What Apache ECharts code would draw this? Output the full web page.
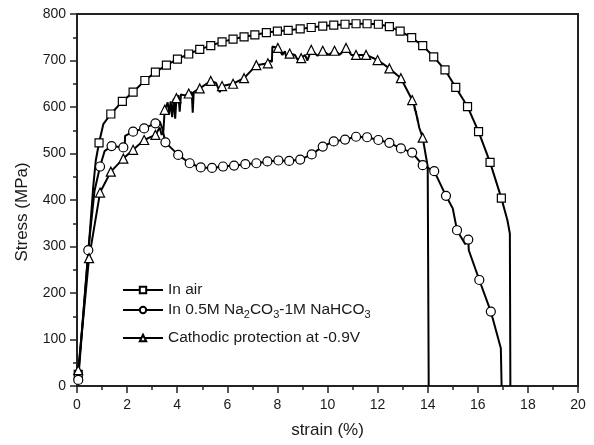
<!DOCTYPE html>
<html>
<head>
<meta charset="utf-8">
<script src="https://cdn.jsdelivr.net/npm/echarts@6/dist/echarts.min.js"></script>
<style>
    html, body { margin: 0; padding: 0; background: #fff; }
    #chart { width: 594px; height: 445px; }
</style>
</head>
<body>
<div id="chart"></div>
<script>
    // strain (%) / stress (MPa)
    // points with a symbol
    var airMarks = [[0.05, 25], [0.88, 523], [1.35, 585], [1.81, 612], [2.24, 632], [2.71, 657], [3.13, 675], [3.57, 690],
        [4.01, 703], [4.46, 714], [4.90, 724], [5.34, 732], [5.79, 740], [6.23, 746], [6.67, 751], [7.10, 755],
        [7.56, 760], [8.00, 763], [8.43, 765], [8.91, 768], [9.35, 771], [9.81, 774], [10.25, 776], [10.70, 778],
        [11.14, 779], [11.58, 779], [12.03, 778], [12.47, 773], [12.90, 763], [13.36, 749], [13.80, 732],
        [14.24, 708], [14.69, 680], [15.12, 642], [15.59, 601], [16.03, 547], [16.49, 481], [16.94, 404]];
    var solMarks = [[0.05, 13], [0.45, 292], [0.92, 472], [1.38, 516], [1.85, 513], [2.24, 547], [2.68, 554], [3.13, 565],
        [3.53, 524], [4.04, 497], [4.50, 479], [4.94, 470], [5.39, 469], [5.83, 472], [6.27, 474], [6.72, 477],
        [7.16, 479], [7.60, 483], [8.04, 485], [8.47, 484], [8.91, 487], [9.37, 498], [9.81, 515], [10.25, 526],
        [10.70, 530], [11.14, 536], [11.58, 535], [12.03, 529], [12.47, 523], [12.93, 511], [13.38, 502],
        [13.80, 475], [14.26, 462], [14.73, 409], [15.17, 335], [15.62, 315], [16.06, 228], [16.52, 160]];
    var cpMarks = [[0.05, 34], [0.48, 275], [0.92, 416], [1.35, 461], [1.85, 489], [2.24, 508], [2.68, 529], [3.13, 540],
        [3.50, 594], [3.97, 619], [4.46, 629], [4.90, 640], [5.34, 656], [5.79, 645], [6.23, 650], [6.67, 662],
        [7.16, 690], [7.62, 694], [8.02, 727], [8.49, 715], [8.95, 705], [9.35, 723], [9.81, 721], [10.28, 721],
        [10.74, 727], [11.14, 712], [11.54, 712], [12.00, 701], [12.47, 683], [12.93, 662], [13.38, 615], [13.80, 534]];

    // full recorded curves (symbols + points in between)
    var airCurve = [[0.05, 25], [0.45, 285], [0.65, 430], [0.75, 485], [0.88, 523], [1.05, 563], [1.35, 585], [1.81, 612],
        [2.24, 632], [2.71, 657], [3.13, 675], [3.57, 690], [4.01, 703], [4.46, 714], [4.90, 724], [5.34, 732],
        [5.79, 740], [6.23, 746], [6.67, 751], [7.10, 755], [7.56, 760], [8.00, 763], [8.43, 765], [8.91, 768],
        [9.35, 771], [9.81, 774], [10.25, 776], [10.70, 778], [11.14, 779], [11.58, 779], [12.03, 778], [12.47, 773],
        [12.90, 763], [13.36, 749], [13.80, 732], [14.24, 708], [14.69, 680], [15.12, 642], [15.59, 601],
        [16.03, 547], [16.49, 481], [16.94, 404], [17.18, 357], [17.28, 328], [17.30, 0]];
    var solCurve = [[0.05, 13], [0.45, 292], [0.70, 420], [0.92, 472], [1.10, 505], [1.38, 516], [1.85, 513], [1.90, 508],
        [1.92, 538], [2.24, 547], [2.68, 554], [3.13, 565], [3.30, 569], [3.40, 555], [3.53, 524], [4.04, 497],
        [4.50, 479], [4.94, 470], [5.39, 469], [5.83, 472], [6.27, 474], [6.72, 477], [7.16, 479], [7.60, 483],
        [8.04, 485], [8.47, 484], [8.91, 487], [9.37, 498], [9.81, 515], [10.25, 526], [10.70, 530], [11.14, 536],
        [11.58, 535], [12.03, 529], [12.47, 523], [12.93, 511], [13.38, 502], [13.80, 475], [14.26, 462],
        [14.73, 409], [15.00, 382], [15.17, 335], [15.50, 305], [15.62, 315], [15.64, 292], [16.06, 228],
        [16.52, 160], [16.92, 81], [16.95, 0]];
    var cpCurve = [[0.05, 34], [0.48, 275], [0.92, 416], [1.35, 461], [1.85, 489], [2.24, 508], [2.68, 529], [3.13, 540],
        [3.30, 556], [3.38, 540], [3.45, 548], [3.48, 545], [3.50, 594], [3.62, 610], [3.68, 585], [3.74, 612],
        [3.80, 578], [3.86, 618], [3.92, 575], [3.97, 619], [4.05, 625], [4.10, 590], [4.15, 627], [4.30, 625],
        [4.46, 629], [4.58, 632], [4.62, 588], [4.66, 632], [4.90, 640], [5.34, 656], [5.55, 652], [5.70, 632],
        [5.79, 645], [6.23, 650], [6.67, 662], [7.16, 690], [7.62, 694], [7.70, 700], [7.78, 697], [7.80, 730],
        [8.02, 727], [8.20, 712], [8.30, 720], [8.35, 708], [8.49, 715], [8.70, 712], [8.80, 702], [8.95, 705],
        [9.10, 712], [9.20, 700], [9.35, 723], [9.60, 710], [9.81, 721], [10.05, 712], [10.28, 721], [10.50, 713],
        [10.74, 727], [10.95, 712], [11.14, 712], [11.54, 712], [12.00, 701], [12.47, 683], [12.93, 662],
        [13.38, 615], [13.45, 606], [13.50, 592], [13.48, 600], [13.55, 582], [13.53, 590], [13.60, 570],
        [13.58, 578], [13.66, 556], [13.80, 534], [14.00, 472], [14.04, 0]];

    var names = ['In air', 'In 0.5M Na2CO3-1M NaHCO3', 'Cathodic protection at -0.9V'];
    var symbols = ['rect', 'circle', 'triangle'];
    var symbolSizes = [8, 9, 9];

    var font = 'Liberation Sans, Arial, Helvetica, sans-serif';
    var ink = '#1a1a1a';

    var curves = [airCurve, solCurve, cpCurve];
    var marks = [airMarks, solMarks, cpMarks];
    var series = [];
    // curve lines first so the legend picks up the line icon
    for (var i = 0; i < 3; i++) {
        series.push({
            name: names[i],
            type: 'line',
            data: curves[i],
            symbol: symbols[i],
            symbolSize: symbolSizes[i],
            showSymbol: false,
            lineStyle: {color: '#000', width: 2},
            itemStyle: {color: '#fff', borderColor: '#000', borderWidth: 1.2},
            z: 2
        });
    }
    for (var j = 0; j < 3; j++) {
        series.push({
            name: names[j],
            type: 'scatter',
            data: marks[j],
            symbol: symbols[j],
            symbolSize: symbolSizes[j],
            itemStyle: {color: '#fff', borderColor: '#000', borderWidth: 1.2, opacity: 1},
            z: 3
        });
    }

    function legendAt(name, top, formatter) {
        return {
            data: [name],
            left: 122,
            top: top,
            padding: 0,
            orient: 'vertical',
            itemWidth: 40,
            itemHeight: 8,
            selectedMode: false,
            formatter: formatter || '{name}',
            textStyle: {
                color: ink, fontSize: 15.5, fontFamily: font, lineHeight: 20,
                rich: {
                    s: {fontSize: 11, fontFamily: font, color: ink, lineHeight: 10, verticalAlign: 'bottom'}
                }
            }
        };
    }

    var option = {
        animation: false,
        backgroundColor: '#fff',
        grid: {
            left: 77, right: 16, top: 14, bottom: 59,
            show: true, borderColor: '#222', borderWidth: 2,
            outerBoundsMode: 'none'
        },
        legend: [
            legendAt(names[0], 280),
            legendAt(names[1], 300, 'In 0.5M Na{s|2}CO{s|3}-1M NaHCO{s|3}'),
            legendAt(names[2], 328)
        ],
        xAxis: {
            type: 'value',
            min: 0, max: 20, interval: 2,
            name: 'strain (%)',
            nameLocation: 'middle',
            nameGap: 36,
            nameTextStyle: {color: ink, fontSize: 17, fontFamily: font},
            axisLine: {lineStyle: {color: '#222', width: 2}},
            axisTick: {length: 7, lineStyle: {color: '#222', width: 1.5}},
            minorTick: {show: true, splitNumber: 2, length: 4, lineStyle: {color: '#222', width: 1.5}},
            axisLabel: {color: ink, fontSize: 14, fontFamily: font, margin: 12},
            splitLine: {show: false}
        },
        yAxis: {
            type: 'value',
            min: 0, max: 800, interval: 100,
            name: 'Stress (MPa)',
            nameLocation: 'middle',
            nameGap: 46,
            nameTextStyle: {color: ink, fontSize: 17, fontFamily: font, padding: [0, 24, 0, 0]},
            axisLine: {lineStyle: {color: '#222', width: 2}},
            axisTick: {length: 7, lineStyle: {color: '#222', width: 1.5}},
            minorTick: {show: true, splitNumber: 2, length: 4, lineStyle: {color: '#222', width: 1.5}},
            axisLabel: {color: ink, fontSize: 14, fontFamily: font, margin: 11},
            splitLine: {show: false}
        },
        series: series
    };

    var myChart = echarts.init(document.getElementById('chart'));
    myChart.setOption(option);
</script>
</body>
</html>
